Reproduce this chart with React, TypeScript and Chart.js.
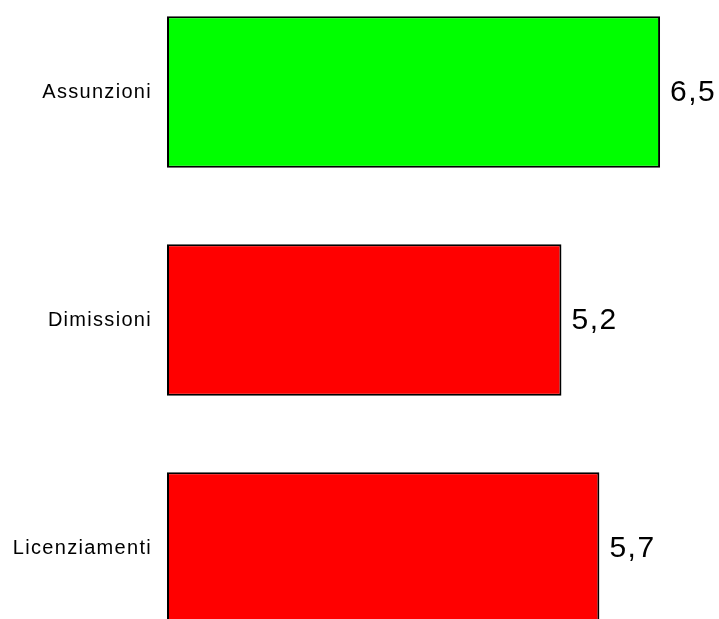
import React, { useEffect, useRef } from "react";
import { Chart, registerables } from "chart.js";

Chart.register(...registerables);

const categories = ["Assunzioni", "Dimissioni", "Licenziamenti"];
const values = [6.5, 5.2, 5.7];
const barColors = ["#00FF00", "#FF0000", "#FF0000"];
const valueLabels = ["6,5", "5,2", "5,7"];

const valueLabelPlugin = {
  id: "valueLabels",
  beforeDraw(chart: any) {
    try {
      chart.ctx.letterSpacing = "1.3px";
    } catch (e) {}
  },
  afterDatasetsDraw(chart: any) {
    const ctx = chart.ctx;
    const meta = chart.getDatasetMeta(0);
    ctx.save();
    try {
      ctx.letterSpacing = "1.5px";
    } catch (e) {}
    ctx.font = '30px "Liberation Sans", Arial, sans-serif';
    ctx.fillStyle = "#000000";
    ctx.textAlign = "left";
    ctx.textBaseline = "middle";
    meta.data.forEach((bar: any, i: number) => {
      ctx.fillText(valueLabels[i], bar.x + 10, bar.y + 1);
    });
    ctx.restore();
  },
};

export default function App() {
  const canvasRef = useRef<HTMLCanvasElement | null>(null);

  useEffect(() => {
    if (!canvasRef.current) return;
    const chart = new Chart(canvasRef.current, {
      type: "bar",
      data: {
        labels: categories,
        datasets: [
          {
            data: values,
            backgroundColor: barColors,
            borderColor: "#000000",
            borderWidth: 2,
            borderSkipped: false,
            categoryPercentage: 1,
            barPercentage: 0.664,
          },
        ],
      },
      options: {
        indexAxis: "y",
        animation: false,
        responsive: false,
        layout: { padding: { left: 0, right: 21, top: 0, bottom: 0 } },
        plugins: {
          legend: { display: false },
          tooltip: { enabled: false },
          title: { display: false },
        },
        scales: {
          x: {
            display: false,
            min: 0,
            max: 7,
          },
          y: {
            grid: { display: false, drawTicks: false },
            border: { display: false },
            ticks: {
              color: "#000000",
              padding: 15,
              font: { family: '"Liberation Sans", Arial, sans-serif', size: 20 },
            },
            afterFit(scale: any) {
              scale.width = 167;
              scale.paddingTop = 0;
              scale.paddingBottom = 0;
            },
          },
        },
      },
      plugins: [valueLabelPlugin],
    });
    return () => chart.destroy();
  }, []);

  return (
    <div style={{ position: "absolute", left: 0, top: -22, width: 719, height: 684 }}>
      <canvas ref={canvasRef} width={719} height={684} />
    </div>
  );
}
